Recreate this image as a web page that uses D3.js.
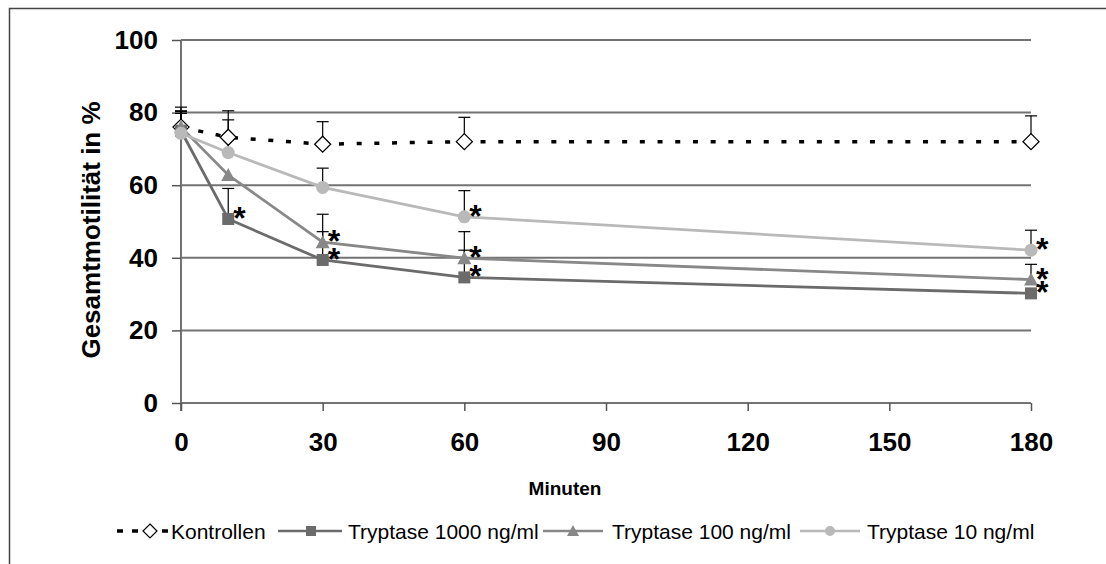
<!DOCTYPE html>
<html>
<head>
<meta charset="utf-8">
<script src="https://cdn.jsdelivr.net/npm/d3@7"></script>
<style>
  body { margin: 0; background: #fff; }
  svg { display: block; font-family: Arial, "Liberation Sans", sans-serif; }
</style>
</head>
<body>
<div id="chart"></div>
<script>
// time points (Minuten)
var minutes = [0, 10, 30, 60, 180];
var xTicks = [0, 30, 60, 90, 120, 150, 180];
var yTicks = [0, 20, 40, 60, 80, 100];

// mean values in %
var kontrollen = [76, 73.2, 71.3, 72, 72];
var tryp1000 = [75, 50.7, 39.4, 34.6, 30.2];
var tryp100 = [76, 62.8, 44.3, 39.9, 34];
var tryp10 = [74.3, 69, 59.4, 51.3, 42.1];

// upper error (SD), null = not visible
var kontrollenErr = [5.5, 7.3, 6.2, 6.7, 7.1];
var tryp1000Err = [5.5, 8.4, 7.8, 7.5, null];
var tryp100Err = [3.8, null, 7.7, 7.3, 4.2];
var tryp10Err = [6, 9, 5.3, 7.2, 5.5];

// significance stars
var tryp1000Sig = [false, true, true, true, true];
var tryp100Sig = [false, false, true, true, true];
var tryp10Sig = [false, false, false, true, true];

var series = [
    { name: "Kontrollen", values: kontrollen, err: kontrollenErr, sig: null, color: "#000", marker: "diamond", dash: "5,12.7" },
    { name: "Tryptase 1000 ng/ml", values: tryp1000, err: tryp1000Err, sig: tryp1000Sig, color: "#6b6b6b", marker: "square" },
    { name: "Tryptase 100 ng/ml", values: tryp100, err: tryp100Err, sig: tryp100Sig, color: "#888888", marker: "triangle" },
    { name: "Tryptase 10 ng/ml", values: tryp10, err: tryp10Err, sig: tryp10Sig, color: "#b9b9b9", marker: "circle" }
];

var W = 1106, H = 564;
var svg = d3.select("#chart").append("svg").attr("width", W).attr("height", H);

// outer frame
svg.append("path")
    .attr("d", "M9.5," + H + "V8.5H" + W)
    .attr("fill", "none").attr("stroke", "#444").attr("stroke-width", 1.5);

var x = d3.scaleLinear().domain([0, 180]).range([181, 1031]);
var y = d3.scaleLinear().domain([0, 100]).range([403, 40]);

// gridlines
svg.append("g").selectAll("line")
    .data(yTicks.slice(1))
    .enter().append("line")
    .attr("x1", x(0)).attr("x2", x(180))
    .attr("y1", d => y(d)).attr("y2", d => y(d))
    .attr("stroke", "#737373").attr("stroke-width", 2);

// y axis
var yAxis = svg.append("g")
    .attr("transform", "translate(" + x(0) + ",0)")
    .call(d3.axisLeft(y).tickValues(yTicks).tickSize(9).tickPadding(14));
yAxis.select(".domain").attr("stroke", "#737373").attr("stroke-width", 2)
    .attr("d", "M0," + y(100) + "V" + (y(0) + 8));
yAxis.selectAll(".tick line").attr("stroke", "#555").attr("stroke-width", 1.5);
yAxis.selectAll("text").attr("font-size", 26).attr("font-weight", "bold")
    .attr("fill", "#000").attr("font-family", "Arial, 'Liberation Sans', sans-serif");

// x axis
var xAxis = svg.append("g")
    .attr("transform", "translate(0," + y(0) + ")")
    .call(d3.axisBottom(x).tickValues(xTicks).tickSize(8).tickPadding(22));
xAxis.select(".domain").attr("stroke", "#737373").attr("stroke-width", 2)
    .attr("d", "M" + x(0) + ",0H" + x(180));
xAxis.selectAll(".tick line").attr("stroke", "#555").attr("stroke-width", 1.5);
xAxis.selectAll("text").attr("font-size", 26).attr("font-weight", "bold")
    .attr("fill", "#000").attr("font-family", "Arial, 'Liberation Sans', sans-serif");

// axis titles
svg.append("text")
    .attr("x", 565).attr("y", 495)
    .attr("text-anchor", "middle")
    .attr("font-size", 19).attr("font-weight", "bold")
    .text("Minuten");
svg.append("text")
    .attr("transform", "translate(100,230) rotate(-90)")
    .attr("text-anchor", "middle")
    .attr("font-size", 26).attr("font-weight", "bold")
    .text("Gesamtmotilität in %");

var line = d3.line().x((d, i) => x(minutes[i])).y(d => y(d));

function drawMarker(g, type, color) {
    if (type == "diamond") {
        g.append("path").attr("d", "M0,-8L8,0L0,8L-8,0Z")
            .attr("fill", "#fff").attr("stroke", "#000").attr("stroke-width", 1.3);
    } else if (type == "square") {
        g.append("rect").attr("x", -6).attr("y", -6).attr("width", 12).attr("height", 12)
            .attr("fill", color);
    } else if (type == "triangle") {
        g.append("path").attr("d", "M0,-7L7,6L-7,6Z").attr("fill", color);
    } else {
        g.append("circle").attr("r", 6.5).attr("fill", color);
    }
}

// error bars first
series.forEach(s => {
    s.err.forEach((e, i) => {
        if (e == null) return;
        var cx = x(minutes[i]);
        svg.append("line")
            .attr("x1", cx).attr("x2", cx)
            .attr("y1", y(s.values[i])).attr("y2", y(s.values[i] + e))
            .attr("stroke", "#000").attr("stroke-width", 1.2);
        svg.append("line")
            .attr("x1", cx - 6).attr("x2", cx + 6)
            .attr("y1", y(s.values[i] + e)).attr("y2", y(s.values[i] + e))
            .attr("stroke", "#000").attr("stroke-width", 1.2);
    });
});

// lines and markers
series.forEach(s => {
    svg.append("path")
        .datum(s.values)
        .attr("d", line)
        .attr("fill", "none")
        .attr("stroke", s.color)
        .attr("stroke-width", s.dash ? 3.5 : 2.8)
        .attr("stroke-dasharray", s.dash || null);

    svg.append("g").selectAll("g")
        .data(s.values)
        .enter().append("g")
        .attr("transform", (d, i) => "translate(" + x(minutes[i]) + "," + y(d) + ")")
        .each(function () { drawMarker(d3.select(this), s.marker, s.color); });
});

// stars
series.forEach(s => {
    if (!s.sig) return;
    s.values.forEach((v, i) => {
        if (!s.sig[i]) return;
        svg.append("text")
            .attr("x", x(minutes[i]) + 5).attr("y", y(v) + 10)
            .attr("font-size", 32).attr("font-weight", "bold")
            .text("*");
    });
});

// legend
var legendY = 531;
var legendItems = [
    { s: series[0], x1: 117, x2: 170, mx: 150, tx: 171 },
    { s: series[1], x1: 278, x2: 342, mx: 311, tx: 348 },
    { s: series[2], x1: 543, x2: 603, mx: 573, tx: 612 },
    { s: series[3], x1: 800, x2: 860, mx: 830, tx: 867 }
];
legendItems.forEach(it => {
    svg.append("line")
        .attr("x1", it.x1).attr("x2", it.x2)
        .attr("y1", legendY).attr("y2", legendY)
        .attr("stroke", it.s.color)
        .attr("stroke-width", it.s.dash ? 3.5 : 2.6)
        .attr("stroke-dasharray", it.s.dash ? "6,9" : null);
    var g = svg.append("g").attr("transform", "translate(" + it.mx + "," + legendY + ")");
    if (it.s.marker == "square") {
        g.append("rect").attr("x", -5).attr("y", -5).attr("width", 10).attr("height", 10).attr("fill", it.s.color);
    } else if (it.s.marker == "triangle") {
        g.append("path").attr("d", "M0,-6L6,5L-6,5Z").attr("fill", it.s.color);
    } else if (it.s.marker == "circle") {
        g.append("circle").attr("r", 5).attr("fill", it.s.color);
    } else {
        g.append("path").attr("d", "M0,-7L7,0L0,7L-7,0Z")
            .attr("fill", "#fff").attr("stroke", "#000").attr("stroke-width", 1.2);
    }
    svg.append("text")
        .attr("x", it.tx).attr("y", legendY + 7.5)
        .attr("font-size", 21)
        .text(it.s.name);
});
</script>
</body>
</html>
